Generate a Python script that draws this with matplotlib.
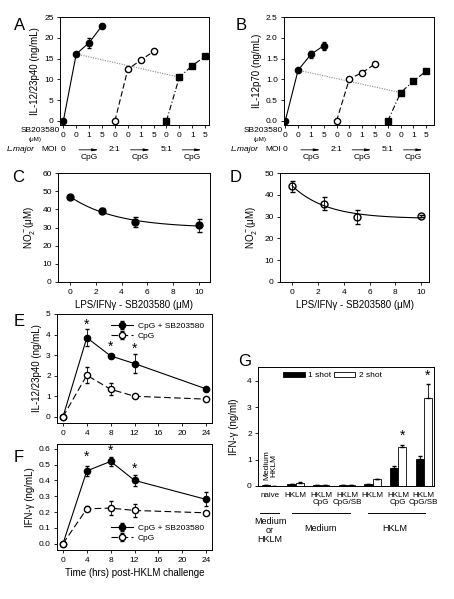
import numpy as np
import matplotlib.pyplot as plt
from matplotlib.transforms import blended_transform_factory

plt.rcParams['font.family'] = ['Liberation Sans', 'DejaVu Sans']
plt.rcParams['font.size'] = 6
plt.rcParams['axes.linewidth'] = 0.7
plt.rcParams['xtick.major.size'] = 2.5
plt.rcParams['ytick.major.size'] = 2.5
plt.rcParams['xtick.major.width'] = 0.6
plt.rcParams['ytick.major.width'] = 0.6
plt.rcParams['xtick.major.pad'] = 2.5
plt.rcParams['ytick.major.pad'] = 2
plt.rcParams['mathtext.default'] = 'regular'

# ---- data: panels A / B (L. major MOI + SB203580) ----
moi_pos = np.arange(12)
sb_labels = ['0', '0', '1', '5'] * 3
a_g1 = [0, 16.1, 18.8, 22.9]
a_g1_err = [0, 0.3, 1.2, 0.3]
a_g2 = [0, 12.4, 14.6, 16.7]
a_g2_err = [0, 0.4, 0.3, 0.5]
a_g3 = [0, 10.5, 13.3, 15.5]
b_g1 = [0, 1.22, 1.60, 1.81]
b_g1_err = [0, 0.03, 0.08, 0.10]
b_g2 = [0, 1.01, 1.16, 1.37]
b_g2_err = [0, 0.03, 0.03, 0.03]
b_g3 = [0, 0.68, 0.96, 1.20]

# ---- data: panels C / D (NO2-) ----
sb_conc = [0, 2.5, 5, 10]
c_no2 = [46.8, 39.3, 32.9, 31.2]
c_err = [1.0, 1.5, 2.8, 3.5]
d_no2 = [44.0, 36.0, 29.8, 30.1]
d_err = [2.5, 3.2, 3.0, 0.5]

# ---- data: panels E / F (time course) ----
hours = [0, 4, 8, 12, 24]
e_sb = [0, 3.85, 2.96, 2.59, 1.36]
e_sb_err = [0, 0.4, 0.1, 0.45, 0.1]
e_cpg = [0, 2.02, 1.34, 1.0, 0.86]
e_cpg_err = [0, 0.38, 0.3, 0.05, 0.05]
e_star_hours = [4, 8, 12]
e_star_y = [4.5, 3.4, 3.3]
f_sb = [0, 0.46, 0.52, 0.40, 0.28]
f_sb_err = [0, 0.03, 0.03, 0.035, 0.045]
f_cpg = [0, 0.22, 0.225, 0.21, 0.195]
f_cpg_err = [0, 0.015, 0.045, 0.04, 0.01]
f_star_hours = [4, 8, 12]
f_star_y = [0.55, 0.585, 0.475]

# ---- data: panel G (IFN-gamma bars) ----
g_labels = ['naive', 'HKLM', 'HKLM\nCpG', 'HKLM\nCpG/SB', 'HKLM', 'HKLM\nCpG', 'HKLM\nCpG/SB']
g_shot1 = [0.02, 0.06, 0.02, 0.04, 0.08, 0.70, 1.02]
g_shot1_err = [0, 0, 0, 0, 0.01, 0.08, 0.12]
g_shot2 = [0.01, 0.13, 0.04, 0.02, 0.27, 1.48, 3.35]
g_shot2_err = [0, 0.01, 0, 0, 0.01, 0.07, 0.53]
g_star_idx = [5, 6]
g_star_y = [1.9, 4.2]

W, H = 454, 599
fig = plt.figure(figsize=(W / 100, H / 100), dpi=100)


def box(l, t, r, b):
    return [l / W, 1 - b / H, (r - l) / W, (b - t) / H]


def letter(x, y, s):
    fig.text(x / W, 1 - y / H, s, fontsize=12, ha='left', va='center')


def moi_panel(ax, g1, g1e, g2, g2e, g3, ylim, yticks, fmt, ylabel, xlim, offs):
    ax.errorbar(moi_pos[0:4], g1, yerr=g1e, color='black', marker='o', ms=4.5, lw=0.8,
                elinewidth=0.6, capsize=1.5)
    ax.errorbar(moi_pos[4:8], g2, yerr=g2e, color='black', marker='o', ms=4.5, lw=0.8,
                mfc='white', ls=(0, (5, 2.5)), elinewidth=0.6, capsize=1.5)
    ax.plot(moi_pos[8:12], g3, color='black', marker='s', ms=4.2, lw=0.8, ls=(0, (5, 2, 1, 2)))
    ax.plot([moi_pos[1], moi_pos[9]], [g1[1], g3[1]], color='#888888', lw=0.8, ls=(0, (1, 1.2)),
            zorder=1)
    ax.set_xlim(*xlim)
    ax.set_ylim(*ylim)
    ax.set_yticks(yticks)
    ax.set_yticklabels([fmt.format(v) for v in yticks])
    ax.set_xticks(moi_pos)
    ax.set_xticklabels(sb_labels)
    ax.set_ylabel(ylabel, fontsize=7, labelpad=3)
    tr = blended_transform_factory(ax.transData, ax.transAxes)
    ax.text(offs[0], -0.05, 'SB203580', transform=tr, ha='right', va='center', fontsize=6)
    ax.text(offs[1], -0.13, '(μM)', transform=tr, ha='center', va='center', fontsize=4.5)
    ax.text(offs[2], -0.225, 'L.major', transform=tr, ha='right', va='center', fontsize=6,
            style='italic')
    ax.text(offs[3], -0.225, 'MOI', transform=tr, ha='right', va='center', fontsize=6)
    for g, lab in zip([0, 4, 8], ['0', '2:1', '5:1']):
        ax.text(g, -0.225, lab, transform=tr, ha='center', va='center', fontsize=6)
        ax.annotate('', xy=(g + 2.95, -0.23), xytext=(g + 1.0, -0.23), xycoords=tr,
                    textcoords=tr, arrowprops=dict(arrowstyle='-|>,head_length=0.6,head_width=0.12',
                                                   lw=0.6, color='black'))
        ax.text(g + 2.0, -0.30, 'CpG', transform=tr, ha='center', va='center', fontsize=6)


def fit_curve(x, y):
    x = np.asarray(x, float)
    y = np.asarray(y, float)
    best = None
    for k in np.linspace(0.02, 2.0, 400):
        A = np.column_stack([np.ones_like(x), np.exp(-k * x)])
        coef, res, _, _ = np.linalg.lstsq(A, y, rcond=None)
        err = np.sum((A @ coef - y) ** 2)
        if best is None or err < best[0]:
            best = (err, k, coef)
    _, k, coef = best
    xs = np.linspace(0, 10, 120)
    return xs, coef[0] + coef[1] * np.exp(-k * xs)


def no2_panel(ax, y, yerr, filled, ylim, yticks, xlim):
    xs, ys = fit_curve(sb_conc, y)
    ax.plot(xs, ys, color='black', lw=0.8)
    ax.errorbar(sb_conc, y, yerr=yerr, color='black', ls='none', marker='o', ms=5,
                mfc='black' if filled else 'none', elinewidth=0.6, capsize=1.8)
    ax.set_xlim(*xlim)
    ax.set_ylim(*ylim)
    ax.set_yticks(yticks)
    ax.set_xticks([0, 2, 4, 6, 8, 10])
    ax.set_ylabel('NO$_2^-$(μM)', fontsize=7, labelpad=4)
    ax.set_xlabel('LPS/IFNγ - SB203580 (μM)', fontsize=7, labelpad=3)


def time_panel(ax, sb, sb_err, cpg, cpg_err, star_h, star_y, ylim, yticks, fmt, ylabel, legloc):
    ax.errorbar(hours, sb, yerr=sb_err, color='black', marker='o', ms=4.5, lw=0.8,
                elinewidth=0.6, capsize=1.5, label='CpG + SB203580')
    ax.errorbar(hours, cpg, yerr=cpg_err, color='black', marker='o', ms=4.5, lw=0.8,
                mfc='white', ls=(0, (6, 3)), elinewidth=0.6, capsize=1.5, label='CpG')
    for h, sy in zip(star_h, star_y):
        ax.text(h, sy, '*', ha='center', va='center', fontsize=10)
    ax.set_xlim(-1, 25)
    ax.set_ylim(*ylim)
    ax.set_xticks([0, 4, 8, 12, 16, 20, 24])
    ax.set_yticks(yticks)
    ax.set_yticklabels([fmt.format(v) for v in yticks])
    ax.set_ylabel(ylabel, fontsize=7, labelpad=3)
    ax.legend(loc=legloc, frameon=False, fontsize=6, handlelength=2.6, borderaxespad=0.6,
              labelspacing=0.2, handletextpad=0.6)


# A
axA = fig.add_axes(box(60, 17, 209, 125))
moi_panel(axA, a_g1, a_g1_err, a_g2, a_g2_err, a_g3, (-1, 25), [0, 5, 10, 15, 20, 25], '{:g}',
          'IL-12/23p40 (ng/mL)', (-0.26, 11.3), (-0.25, -2.2, -2.25, -0.45))
letter(14, 25, 'A')

# B
axB = fig.add_axes(box(284, 17, 434, 125))
moi_panel(axB, b_g1, b_g1_err, b_g2, b_g2_err, b_g3, (-0.1, 2.5), [0, 0.5, 1.0, 1.5, 2.0, 2.5],
          '{:.1f}', 'IL-12p70 (ng/mL)', (-0.1, 11.6), (-0.2, -1.95, -2.05, -0.35))
letter(236, 25, 'B')

# C
axC = fig.add_axes(box(58, 173, 210, 282))
no2_panel(axC, c_no2, c_err, True, (0, 60), [0, 10, 20, 30, 40, 50, 60], (-0.93, 10.85))
letter(12, 178, 'C')

# D
axD = fig.add_axes(box(280, 173, 429, 282))
no2_panel(axD, d_no2, d_err, False, (0, 50), [0, 10, 20, 30, 40, 50], (-0.93, 10.6))
letter(230, 178, 'D')

# E
axE = fig.add_axes(box(57, 314, 212, 423))
time_panel(axE, e_sb, e_sb_err, e_cpg, e_cpg_err, e_star_hours, e_star_y, (-0.3, 5),
           [0, 1, 2, 3, 4, 5], '{:g}', 'IL-12/23p40 (ng/mL)', 'upper right')
letter(14, 322, 'E')

# F
axF = fig.add_axes(box(57, 444, 212, 550))
time_panel(axF, f_sb, f_sb_err, f_cpg, f_cpg_err, f_star_hours, f_star_y, (-0.04, 0.63),
           [0, 0.1, 0.2, 0.3, 0.4, 0.5, 0.6], '{:.1f}', 'IFN-γ (ng/mL)', 'lower right')
axF.set_xlabel('Time (hrs) post-HKLM challenge', fontsize=7, labelpad=3)
letter(14, 458, 'F')

# G
axG = fig.add_axes(box(258, 367, 434, 486))
gx = np.arange(len(g_labels))
bw = 0.32
axG.bar(gx - bw / 2, g_shot1, bw, color='black', edgecolor='black', lw=0.6, label='1 shot',
        yerr=[np.zeros(len(gx)), g_shot1_err], error_kw=dict(elinewidth=0.6, capsize=1.5))
axG.bar(gx + bw / 2, g_shot2, bw, color='white', edgecolor='black', lw=0.6, label='2 shot',
        yerr=[np.zeros(len(gx)), g_shot2_err], error_kw=dict(elinewidth=0.6, capsize=1.5))
for i, sy in zip(g_star_idx, g_star_y):
    axG.text(gx[i] + bw / 2, sy, '*', ha='center', va='center', fontsize=10)
axG.text(0, 0.8, 'Medium\nHKLM', rotation=90, ha='center', va='center', fontsize=6,
         linespacing=0.95)
axG.set_xlim(-0.47, 6.4)
axG.set_ylim(0, 4.53)
axG.set_yticks([0, 1, 2, 3, 4])
axG.set_xticks(gx)
axG.set_xticklabels(g_labels, fontsize=5.8, linespacing=1.0)
axG.tick_params(axis='x', length=0, pad=4)
axG.set_ylabel('IFN-γ (ng/ml)', fontsize=7, labelpad=6)
axG.legend(loc='upper left', ncol=2, frameon=False, fontsize=6, handlelength=2.6, handleheight=0.5,
           columnspacing=0.3, handletextpad=0.4, bbox_to_anchor=(0.1, 1.02))
trG = blended_transform_factory(axG.transData, axG.transAxes)
for x0, x1 in [(-0.39, 0.35), (0.86, 3.11), (3.81, 6.03)]:
    axG.plot([x0, x1], [-0.227, -0.227], color='black', lw=0.7, transform=trG, clip_on=False)
axG.text(0, -0.37, 'Medium\nor\nHKLM', transform=trG, ha='center', va='center', fontsize=6.5,
         linespacing=1.0)
axG.text(1.95, -0.355, 'Medium', transform=trG, ha='center', va='center', fontsize=6.5)
axG.text(4.85, -0.355, 'HKLM', transform=trG, ha='center', va='center', fontsize=6.5)
letter(238, 362, 'G')

fig.savefig('out.png', dpi=100)
